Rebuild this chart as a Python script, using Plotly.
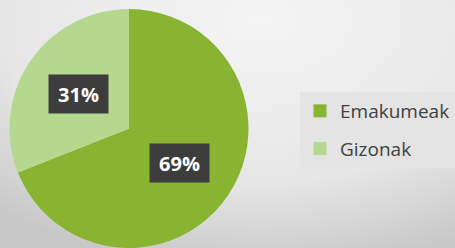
import math, base64
import plotly.graph_objects as go

labels = ["Emakumeak", "Gizonak"]
values = [69, 31]
colors = ["#89b431", "#b5d88e"]

W, H = 455, 248

fig = go.Figure()
fig.add_trace(go.Pie(
    labels=labels, values=values, sort=False, direction="clockwise", rotation=0,
    marker=dict(colors=colors, line=dict(width=0)),
    textinfo="none", hoverinfo="label+percent", showlegend=False,
    domain=dict(x=[9/W, 249/W], y=[0, 1-9/H]),
))
# legend entries (one per category)
for i, (lab, col) in enumerate(zip(labels, colors)):
    fig.add_trace(go.Scatter(
        x=[None], y=[None], mode="markers", name=lab, legendgroup=f"g{i}",
        marker=dict(symbol="square", size=13, color=col),
    ))

cx, cy, r = 129/W, 1-128.5/H, 119.5
total = sum(values)
cum = 0
annotations = []
for v in values:
    mid = (cum + v/2) / total * 2*math.pi
    cum += v
    dx = math.sin(mid) * r * 0.51
    dy = math.cos(mid) * r * 0.51
    annotations.append(dict(
        x=cx + dx/W, y=cy + dy/H, xref="paper", yref="paper",
        text=f"<b>{round(v/total*100)}%</b>", showarrow=False,
        font=dict(family="Open Sans", size=20, color="#ffffff"),
        bgcolor="#3d3d3d", width=57, height=36, xanchor="center", yanchor="middle",
    ))

svg = f'''<svg xmlns="http://www.w3.org/2000/svg" width="{W}" height="{H}" preserveAspectRatio="none">
<defs><radialGradient id="g" gradientUnits="userSpaceOnUse" cx="260" cy="20" r="250"
 gradientTransform="translate(260,20) scale(1.6,1) translate(-260,-20)">
<stop offset="0" stop-color="#f5f5f5"/><stop offset="0.65" stop-color="#e6e6e6"/>
<stop offset="1" stop-color="#c8c8c8"/></radialGradient></defs>
<rect width="{W}" height="{H}" fill="url(#g)"/></svg>'''
src = "data:image/svg+xml;base64," + base64.b64encode(svg.encode()).decode()

fig.update_layout(
    width=W, height=H, margin=dict(l=0, r=0, t=0, b=0, autoexpand=False),
    paper_bgcolor="#d8d8d8", plot_bgcolor="rgba(0,0,0,0)",
    xaxis=dict(visible=False), yaxis=dict(visible=False),
    images=[dict(source=src, xref="paper", yref="paper", x=0, y=1, sizex=1, sizey=1,
                 xanchor="left", yanchor="top", sizing="stretch", layer="below")],
    annotations=annotations,
    legend=dict(x=300/W, y=1-92/H, xanchor="left", yanchor="top",
                bgcolor="#e4e4e4", borderwidth=0,
                tracegroupgap=10,
                font=dict(family="Open Sans", size=19, color="#404040"),
                itemclick=False, itemdoubleclick=False),
    showlegend=True,
)
fig.write_html("out.html", config={"displayModeBar": False},
               post_script="document.body.style.margin='0';")
